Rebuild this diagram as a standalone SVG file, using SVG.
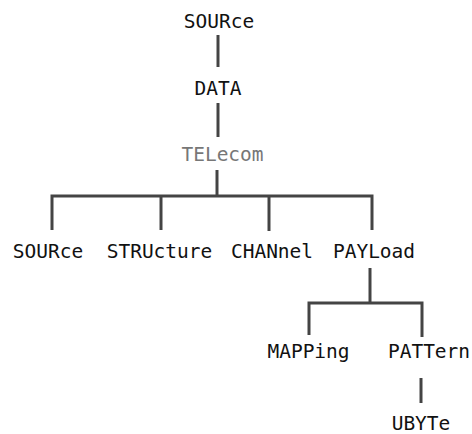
<svg xmlns="http://www.w3.org/2000/svg" width="472" height="434" viewBox="0 0 472 434">
<style>
text{font-family:"DejaVu Sans Mono","Liberation Mono",monospace;font-size:19.5px;fill:#111;text-anchor:middle}
.g{fill:#777}
.c path{stroke:#444;stroke-width:3;fill:none}
</style>
<rect width="472" height="434" fill="#fff"/>
<g class="c" id="connectors">
<path d="M218 35V67"/>
<path d="M218 103V137"/>
<path d="M217 170V196"/>
<path d="M52 230V196H372V230"/>
<path d="M161 196V230"/>
<path d="M269 196V231"/>
<path d="M370 268V303"/>
<path d="M309 335V303H422V337"/>
<path d="M421 378V403"/>
</g>
<g id="n1"><text x="219" y="28">SOURce</text></g>
<g id="n2"><text x="218" y="95">DATA</text></g>
<g id="n3"><text class="g" x="222.5" y="161">TELecom</text></g>
<g id="n4"><text x="48" y="258">SOURce</text></g>
<g id="n5"><text x="159.5" y="258">STRUcture</text></g>
<g id="n6"><text x="272" y="258">CHANnel</text></g>
<g id="n7"><text x="374" y="258">PAYLoad</text></g>
<g id="n8"><text x="308.5" y="358">MAPPing</text></g>
<g id="n9"><text x="429" y="358">PATTern</text></g>
<g id="n10"><text x="421" y="430">UBYTe</text></g>
</svg>
